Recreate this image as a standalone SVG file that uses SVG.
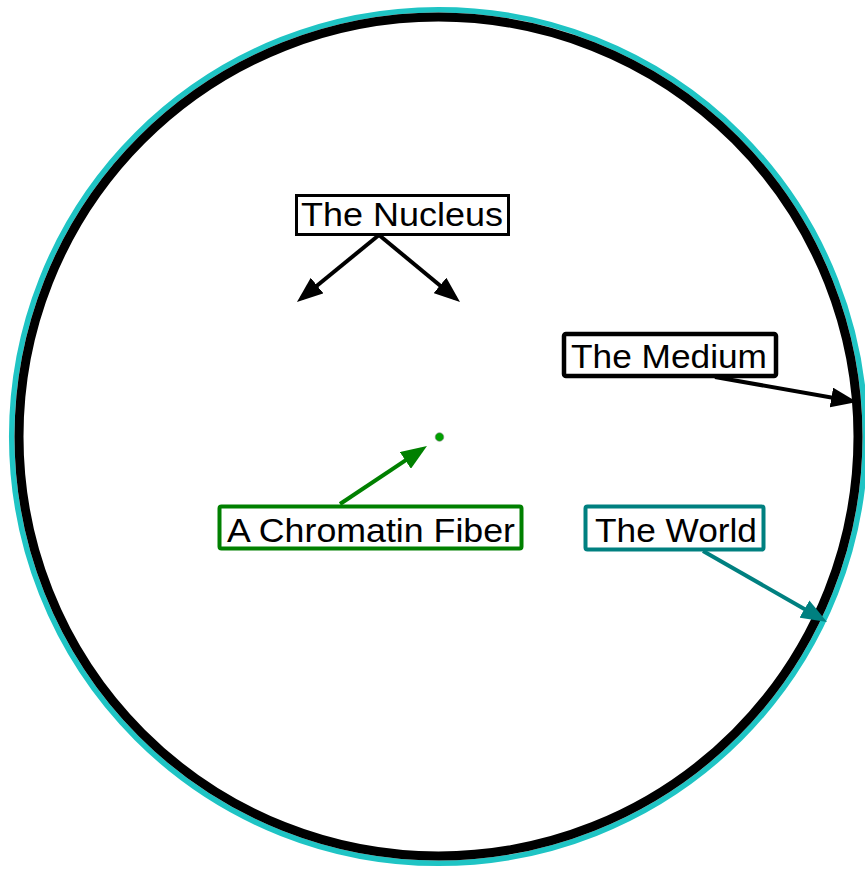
<svg xmlns="http://www.w3.org/2000/svg" width="865" height="872" viewBox="0 0 865 872">
  <style>
    .lbl { font-family: "Liberation Sans", Arial, sans-serif; font-size: 33px; fill: #000; }
    .box { fill: #fff; }
    .conn { fill: none; stroke-width: 4; }
  </style>
  <defs>
    <marker id="ahBlack" markerUnits="userSpaceOnUse" markerWidth="26" markerHeight="20" refX="20" refY="10" orient="auto">
      <path d="M0,0 L26,10 L0,20 z" fill="#000"/>
    </marker>
    <marker id="ahGreen" markerUnits="userSpaceOnUse" markerWidth="26" markerHeight="20" refX="20" refY="10" orient="auto">
      <path d="M0,0 L26,10 L0,20 z" fill="#008000"/>
    </marker>
    <marker id="ahTeal" markerUnits="userSpaceOnUse" markerWidth="26" markerHeight="20" refX="20" refY="10" orient="auto">
      <path d="M0,0 L26,10 L0,20 z" fill="#008080"/>
    </marker>
  </defs>
  <rect width="865" height="872" fill="#fff"/>

  <g id="world-circle">
    <circle cx="438.5" cy="436.5" r="426.8" fill="none" stroke="#1fc4c4" stroke-width="5.5"/>
    <circle cx="438.5" cy="436.5" r="419.5" fill="none" stroke="#000" stroke-width="9"/>
  </g>

  <g id="chromatin-dot">
    <circle cx="439.5" cy="437" r="4.3" fill="#00a000" stroke="#888" stroke-width="0.6"/>
  </g>

  <g id="connectors">
    <line class="conn" stroke="#000" x1="379" y1="235" x2="301.6" y2="298.2" marker-end="url(#ahBlack)"/>
    <line class="conn" stroke="#000" x1="379" y1="235" x2="455.4" y2="298.2" marker-end="url(#ahBlack)"/>
    <line class="conn" stroke="#000" x1="715" y1="377" x2="851.1" y2="401" marker-end="url(#ahBlack)"/>
    <line class="conn" stroke="#008000" x1="340" y1="504" x2="422" y2="449.3" marker-end="url(#ahGreen)"/>
    <line class="conn" stroke="#008080" x1="703" y1="551" x2="821.8" y2="619" marker-end="url(#ahTeal)"/>
  </g>

  <g id="nucleus">
    <rect class="box" x="296.5" y="195.5" width="212" height="39" stroke="#000" stroke-width="3"/>
    <text class="lbl" x="301" y="226" textLength="202" lengthAdjust="spacingAndGlyphs">The Nucleus</text>
  </g>

  <g id="medium">
    <rect class="box" x="564" y="334" width="212" height="42" rx="2" stroke="#000" stroke-width="4.5"/>
    <text class="lbl" x="571" y="368" textLength="196" lengthAdjust="spacingAndGlyphs">The Medium</text>
  </g>

  <g id="chromatin">
    <rect class="box" x="219.5" y="506.5" width="302" height="42" rx="2" stroke="#008000" stroke-width="4"/>
    <text class="lbl" x="227" y="542" textLength="288" lengthAdjust="spacingAndGlyphs">A Chromatin Fiber</text>
  </g>

  <g id="world">
    <rect class="box" x="585.5" y="506.5" width="178" height="43" rx="2" stroke="#008080" stroke-width="4"/>
    <text class="lbl" x="595" y="542" textLength="162" lengthAdjust="spacingAndGlyphs">The World</text>
  </g>
</svg>
